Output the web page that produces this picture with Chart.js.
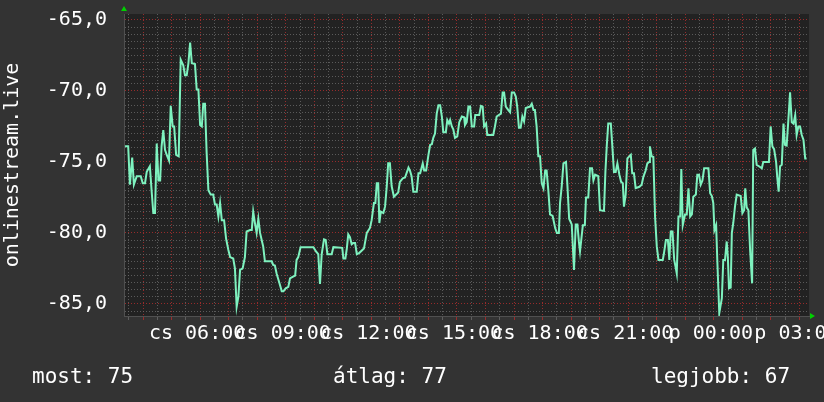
<!DOCTYPE html>
<html>
<head>
<meta charset="utf-8">
<script src="https://cdn.jsdelivr.net/npm/chart.js@4/dist/chart.umd.min.js"></script>
<style>
  html, body { margin: 0; padding: 0; background: #333333; }
  #wrap { width: 824px; height: 402px; }
</style>
</head>
<body>
<div id="wrap"><canvas id="canvas-rrd" width="824" height="402"></canvas></div>
<script>
// time of day in hours (24+ = next day)
const hours = [
  3.37, 3.48, 3.54, 3.62, 3.68, 3.78, 3.92, 3.99, 4.07, 4.13,
  4.24, 4.30, 4.36, 4.42, 4.48, 4.54, 4.60, 4.65, 4.71, 4.77,
  4.83, 4.91, 4.97, 5.04, 5.09, 5.16, 5.25, 5.32, 5.41, 5.47,
  5.53, 5.59, 5.65, 5.71, 5.82, 5.88, 5.94, 6.00, 6.06, 6.11,
  6.17, 6.23, 6.29, 6.37, 6.46, 6.52, 6.58, 6.64, 6.70, 6.76,
  6.84, 6.91, 6.99, 7.05, 7.16, 7.22, 7.28, 7.34, 7.40, 7.49,
  7.57, 7.63, 7.75, 7.81, 7.86, 7.92, 7.98, 8.04, 8.10, 8.21,
  8.27, 8.51, 8.56, 8.62, 8.68, 8.78, 8.86, 8.92, 9.00, 9.09,
  9.15, 9.24, 9.33, 9.38, 9.44, 9.52, 9.97, 10.06, 10.14, 10.20,
  10.26, 10.34, 10.40, 10.46, 10.61, 10.67, 10.98, 11.02, 11.09, 11.14,
  11.19, 11.25, 11.31, 11.37, 11.43, 11.49, 11.58,
  11.74, 11.84, 11.95, 12.01, 12.09, 12.14, 12.19, 12.24, 12.28, 12.33,
  12.42, 12.48, 12.54, 12.59, 12.65, 12.71, 12.79, 12.94, 13.00, 13.10,
  13.18, 13.30, 13.35, 13.41, 13.47, 13.59, 13.65, 13.71, 13.80, 13.85,
  13.92, 14.00, 14.06, 14.12, 14.17, 14.23, 14.29, 14.35, 14.41, 14.47,
  14.52, 14.61, 14.66, 14.72, 14.76, 14.82, 14.87, 14.93, 15.01, 15.08,
  15.17, 15.25, 15.28, 15.34, 15.40, 15.46, 15.52, 15.60, 15.64, 15.78,
  15.84, 15.90, 15.95, 16.02, 16.06, 16.27, 16.33, 16.39, 16.54, 16.60,
  16.65, 16.71, 16.80, 16.86, 16.92, 17.00, 17.06, 17.11, 17.17, 17.23,
  17.29, 17.35, 17.41, 17.56, 17.62, 17.68, 17.73, 17.79, 17.85, 17.91,
  17.97, 18.03, 18.09, 18.14, 18.20, 18.26, 18.35, 18.44, 18.50, 18.57,
  18.61, 18.67, 18.73, 18.82, 18.87, 18.93, 19.02, 19.10, 19.16, 19.22, 19.27, 19.31,
  19.41, 19.48, 19.52, 19.60, 19.66, 19.73, 19.78, 19.84, 19.95, 20.01,
  20.15, 20.20, 20.25, 20.30, 20.39, 20.44, 20.50, 20.56, 20.62, 20.69,
  20.75, 20.81, 20.85, 20.91, 20.97, 21.09, 21.14, 21.20, 21.26, 21.39,
  21.47, 21.53, 21.61, 21.67, 21.73, 21.76, 21.82, 21.88, 21.94, 22.00,
  22.06, 22.21, 22.25, 22.32, 22.39, 22.44, 22.49, 22.55, 22.61, 22.66,
  22.70, 22.76, 22.82, 22.86, 22.91, 22.99, 23.05, 23.11, 23.17, 23.23,
  23.28, 23.37, 23.42, 23.48, 23.54, 23.60, 23.66, 23.81, 23.87, 23.93,
  23.98, 24.02, 24.08, 24.12, 24.19, 24.28, 24.33, 24.39, 24.45, 24.49,
  24.53, 24.59, 24.63, 24.68, 24.74, 24.80, 24.94, 25.00, 25.06, 25.10,
  25.15, 25.21, 25.27, 25.34, 25.38, 25.44, 25.50, 25.58, 25.68, 25.73,
  25.93, 25.99, 26.05, 26.11, 26.18, 26.22, 26.27, 26.32, 26.38, 26.44,
  26.49, 26.55, 26.61, 26.67, 26.73, 26.79, 26.85, 26.90, 26.96, 27.02,
  27.08, 27.14, 27.20, 27.25
];

// signal level, dBm
const levels = [
  -73.9, -73.9, -76.6, -74.7, -76.6, -76.0, -76.0, -76.5, -76.5, -75.7,
  -75.3, -77.0, -78.6, -78.6, -73.7, -76.3, -76.3, -73.9, -72.75, -74.15,
  -74.5, -74.9, -71.05, -72.5, -72.5, -74.5, -74.6, -67.8, -68.2, -68.9,
  -68.9, -68.05, -66.6, -68.05, -68.1, -69.9, -69.9, -72.4, -72.5, -70.9,
  -70.9, -74.4, -77.0, -77.3, -77.3, -78.0, -78.0, -78.85, -77.9, -79.1,
  -79.1, -80.4, -81.2, -81.7, -81.8, -82.5, -85.2, -84.5, -82.6, -82.5,
  -81.7, -79.9, -79.8, -79.8, -78.5, -79.3, -80.0, -79.0, -80.0, -80.95,
  -82.0, -82.0, -82.25, -82.3, -82.85, -83.55, -84.1, -84.1, -83.9, -83.8,
  -83.2, -83.1, -83.0, -81.9, -81.7, -81.0, -81.0, -81.3, -81.5, -83.6,
  -81.5, -80.45, -80.5, -81.5, -81.5, -81.0, -81.05, -81.8, -81.8, -81.1,
  -80.1, -80.3, -80.8, -80.7, -80.7, -81.5, -81.4,
  -81.1, -80.0, -79.65, -79.1, -77.9, -77.9, -76.5, -76.5, -79.3, -78.5,
  -78.6, -78.15, -76.7, -75.1, -75.1, -76.7, -77.45, -77.15, -76.4, -76.15,
  -76.1, -75.4, -75.6, -76.0, -77.1, -77.1, -75.8, -75.8, -75.1, -75.6,
  -75.6, -74.5, -73.8, -73.75, -73.3, -73.0, -71.6, -71.0, -71.0, -71.8,
  -72.9, -72.9, -72.05, -72.3, -72.05, -72.5, -72.7, -73.3, -73.2, -72.2,
  -71.8, -71.85, -72.4, -72.2, -71.1, -71.1, -72.5, -72.5, -71.7, -71.7,
  -71.05, -71.1, -72.5, -72.3, -73.1, -73.1, -72.5, -71.8, -71.6, -70.1,
  -70.1, -71.1, -71.35, -71.5, -70.1, -70.1, -70.4, -71.1, -72.6, -72.6,
  -71.8, -72.15, -71.2, -71.1, -70.9, -71.35, -71.35, -72.5, -74.6, -74.6,
  -76.5, -76.85, -75.6, -75.6, -77.0, -78.7, -78.8, -79.65, -80.0, -80.0,
  -77.9, -76.7, -75.1, -75.0, -76.7, -79.0, -79.4, -82.6, -79.4, -79.4, -80.6, -81.3,
  -79.45, -79.45, -77.5, -77.5, -75.45, -75.45, -76.3, -75.9, -76.0, -78.4,
  -78.45, -75.7, -73.8, -72.3, -72.3, -73.8, -75.7, -75.7, -75.1, -75.9,
  -76.4, -76.5, -78.15, -77.3, -74.75, -74.5, -75.8, -75.8, -76.85, -76.75,
  -76.6, -76.05, -75.6, -75.1, -75.0, -73.9, -74.6, -74.65, -78.85, -80.95,
  -81.9, -81.9, -81.45, -80.5, -80.5, -81.9, -79.9, -79.9, -81.9, -82.4,
  -82.85, -78.85, -78.85, -75.5, -79.45, -78.7, -78.7, -76.85, -78.85, -78.7,
  -77.45, -77.3, -75.9, -75.9, -76.6, -76.3, -75.45, -75.45, -77.2, -77.4,
  -77.9, -79.8, -79.45, -81.9, -85.65, -84.6, -81.9, -81.9, -80.6, -81.7,
  -83.9, -83.85, -80.0, -79.3, -78.15, -77.3, -77.4, -78.6, -78.4, -76.85,
  -78.2, -78.4, -81.2, -83.55, -74.15, -74.05, -75.2, -75.3, -75.45, -75.0,
  -75.0, -72.5, -73.9, -74.1, -75.0, -76.05, -77.1, -75.3, -75.2, -72.3,
  -73.8, -73.85, -72.05, -70.1, -72.2, -72.3, -71.7, -73.1, -72.5, -72.5,
  -73.1, -73.45, -74.75, -74.75
];

const seriesName = "onlinestream.live";
const dayNames = ["cs", "p"];
const footer = ["most: 75", "átlag: 77", "legjobb: 67"];

const MONO = "'DejaVu Sans Mono', monospace";
const RED = "rgba(170, 45, 45, 0.85)";
const GREY = "rgba(105, 105, 105, 0.8)";

function hourLabel(h) {
  if (h % 3 !== 0) return "";
  const day = h < 24 ? dayNames[0] : dayNames[1];
  return day + " " + String(h % 24).padStart(2, "0") + ":00";
}

function halfSteps(from, to) {
  const t = [];
  for (let v = from; v <= to; v += 0.5) t.push({ value: v });
  return t;
}

const rrdFrame = {
  id: "rrdFrame",
  beforeDraw(chart) {
    const { ctx, chartArea: a } = chart;
    ctx.save();
    ctx.fillStyle = "#333333";
    ctx.fillRect(0, 0, chart.width, chart.height);
    ctx.fillStyle = "#222222";
    ctx.fillRect(a.left, a.top, a.right - a.left, a.bottom - a.top);
    ctx.restore();
  },
  afterDraw(chart) {
    const { ctx, chartArea: a } = chart;
    ctx.save();
    // axis arrows
    ctx.fillStyle = "#00d000";
    ctx.beginPath();
    ctx.moveTo(a.left - 3, a.top - 3);
    ctx.lineTo(a.left + 3, a.top - 3);
    ctx.lineTo(a.left, a.top - 8);
    ctx.fill();
    ctx.beginPath();
    ctx.moveTo(a.right + 1, a.bottom - 3);
    ctx.lineTo(a.right + 1, a.bottom + 3);
    ctx.lineTo(a.right + 6, a.bottom);
    ctx.fill();
    // footer values
    ctx.fillStyle = "#ffffff";
    ctx.font = "21px " + MONO;
    ctx.textBaseline = "alphabetic";
    ctx.fillText(footer[0], 32, 383);
    ctx.fillText(footer[1], 333, 383);
    ctx.fillText(footer[2], 651, 383);
    ctx.restore();
  }
};

const ctx = document.getElementById("canvas-rrd");
new Chart(ctx, {
  type: "line",
  data: {
    datasets: [{
      label: seriesName,
      data: hours.map((h, i) => ({ x: h, y: levels[i] })),
      borderColor: "#7ef2bf",
      borderWidth: 2,
      pointRadius: 0,
      tension: 0,
      fill: false
    }]
  },
  options: {
    responsive: false,
    animation: false,
    devicePixelRatio: 1,
    layout: { padding: { left: 0, right: 15, top: 14, bottom: 0 } },
    plugins: { legend: { display: false }, tooltip: { enabled: false } },
    scales: {
      x: {
        type: "linear",
        min: 3 + 1 / 3,
        max: 27 + 1 / 3,
        afterBuildTicks: s => { s.ticks = halfSteps(3.5, 27); },
        afterFit: s => { s.height = 86; s.paddingLeft = 0; s.paddingRight = 0; },
        grid: {
          color: c => (c.tick && c.tick.value % 1 === 0 ? RED : GREY),
          lineWidth: 1,
          drawTicks: true,
          tickLength: 4,
          tickBorderDash: [],
          borderDash: [1, 2]
        },
        border: { display: true, color: "#505050", dash: [1, 2] },
        ticks: {
          autoSkip: false,
          maxRotation: 0,
          minRotation: 0,
          padding: 2,
          labelOffset: -3,
          color: "#ffffff",
          font: { family: MONO, size: 20 },
          callback: v => hourLabel(v)
        }
      },
      y: {
        min: -85.85,
        max: -64.58,
        afterBuildTicks: s => { s.ticks = halfSteps(-85.5, -65); },
        afterFit: s => { s.width = 124; s.paddingTop = 0; s.paddingBottom = 0; },
        grid: {
          color: c => (c.tick && c.tick.value % 5 === 0 ? RED : GREY),
          lineWidth: 1,
          drawTicks: false,
          borderDash: [1, 2]
        },
        border: { display: true, color: "#505050", dash: [1, 2] },
        ticks: {
          autoSkip: false,
          padding: 17,
          color: "#ffffff",
          font: { family: MONO, size: 20 },
          callback: v => (v % 5 === 0 ? v.toFixed(1).replace(".", ",") : "")
        },
        title: {
          display: true,
          text: seriesName,
          color: "#ffffff",
          font: { family: MONO, size: 20 },
          padding: { top: 1, bottom: 0 }
        }
      }
    }
  },
  plugins: [rrdFrame]
});
</script>
</body>
</html>
